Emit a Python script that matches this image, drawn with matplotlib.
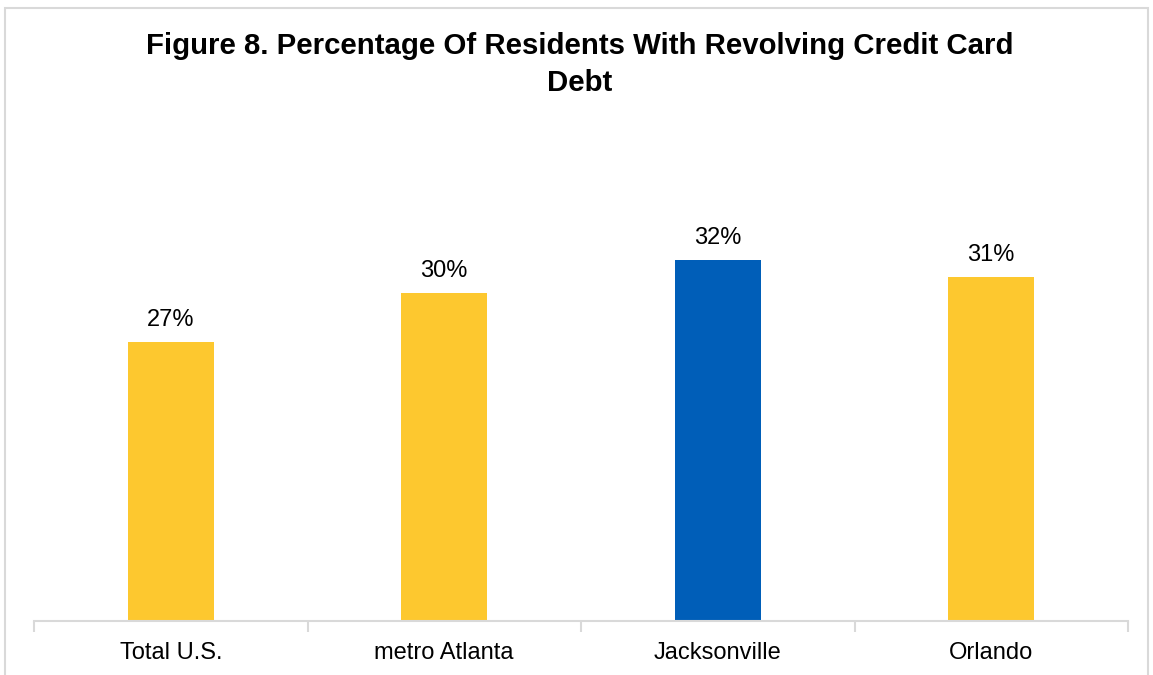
import matplotlib
matplotlib.use("Agg")
import matplotlib.pyplot as plt
from matplotlib.patches import Rectangle

categorias = ["Total U.S.", "metro Atlanta", "Jacksonville", "Orlando"]
valores = [27, 30, 32, 31]
cores = ["#FDC82F", "#FDC82F", "#005EB8", "#FDC82F"]

plt.rcParams["font.family"] = ["Liberation Sans", "DejaVu Sans"]

W, H = 1153, 675
fig = plt.figure(figsize=(W / 100, H / 100), dpi=100)

# moldura cinza clara (a borda de baixo fica fora da imagem)
fig.patches.append(Rectangle((5 / W, -0.05), 1143 / W, (H - 8) / H + 0.05,
                             transform=fig.transFigure, fill=False,
                             edgecolor="#D9D9D9", linewidth=1.5))

y_base = 621
px_por_pct = 16.4
ymin, ymax = 10, 35
altura = (ymax - ymin) * px_por_pct
ax = fig.add_axes([34 / W, (H - y_base) / H, 1094 / W, altura / H])

x = range(len(categorias))
ax.bar(x, valores, width=0.315, color=cores)
ax.set_ylim(ymin, ymax)
ax.set_xlim(-0.5, len(categorias) - 0.5)

for xi, v in zip(x, valores):
    ax.annotate(f"{v}%", (xi, v), xytext=(0, 11), textcoords="offset pixels",
                ha="center", va="bottom", fontsize=17, color="#000000")

for lado in ["top", "right", "left"]:
    ax.spines[lado].set_visible(False)
ax.spines["bottom"].set_color("#D9D9D9")
ax.spines["bottom"].set_linewidth(1.5)
ax.set_yticks([])

ax.set_xticks(list(x))
ax.set_xticklabels(categorias, fontsize=17)
ax.tick_params(axis="x", which="major", length=0, pad=15)
ax.set_xticks([i - 0.5 for i in range(len(categorias) + 1)], minor=True)
ax.tick_params(axis="x", which="minor", length=8, width=1.5, color="#D9D9D9")

fig.text(580 / W, 1 - 64.5 / H,
         "Figure 8. Percentage Of Residents With Revolving Credit Card\nDebt",
         ha="center", va="center", fontsize=21.2, fontweight="bold",
         linespacing=1.4)

fig.savefig("out.png", dpi=100, facecolor="white")
